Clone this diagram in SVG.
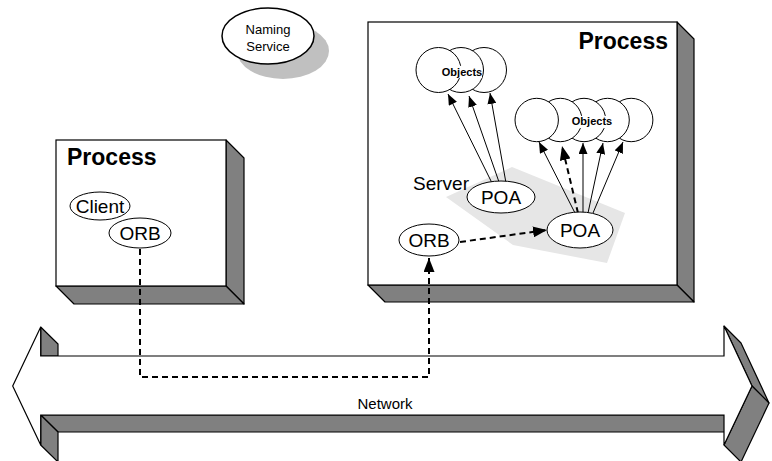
<svg xmlns="http://www.w3.org/2000/svg" width="772" height="461" viewBox="0 0 772 461">
<style>
.face{fill:#fff;stroke:#000;stroke-width:1.2}
.side{fill:#808080;stroke:#000;stroke-width:1.2;stroke-linejoin:round}
.ell{fill:#fff;stroke:#000;stroke-width:1}
.t{font-family:"Liberation Sans",Arial,sans-serif;fill:#000}
.lbl{font-size:19px;text-anchor:middle}
.title{font-size:23px;font-weight:bold}
.obj{font-size:11px;font-weight:bold;text-anchor:middle}
.ln{stroke:#000;stroke-width:1;fill:none}
.dash{stroke:#000;stroke-width:2;fill:none;stroke-dasharray:6,4}
</style>
<defs>
<marker id="ah" markerUnits="userSpaceOnUse" markerWidth="11" markerHeight="9" refX="11" refY="4.5" orient="auto"><path d="M0,0 L11,4.5 L0,9 z" fill="#000"/></marker>
<marker id="ahb" markerUnits="userSpaceOnUse" markerWidth="14" markerHeight="11" refX="14" refY="5.5" orient="auto"><path d="M0,0 L14,5.5 L0,11 z" fill="#000"/></marker>
</defs>

<g id="network">
<polygon class="side" points="40.7,327 58,344 58,356 40.7,356"/>
<polygon class="side" points="40.7,415 724,415 741,432 58,432"/>
<polygon class="side" points="40.7,415 58,432 58,462 40.7,445"/>
<polygon class="side" points="724,326 741,343 769,403 752,386"/>
<polygon class="side" points="752,386 769,403 741,462 724,445"/>
<polygon class="face" points="40.7,356 724,356 724,326 752,386 724,445 724,415 40.7,415 40.7,445 12.7,386 40.7,327"/>
<text class="t" x="385" y="409" font-size="15" text-anchor="middle">Network</text>
</g>

<g id="naming-service">
<ellipse cx="283" cy="51" rx="46" ry="28" fill="#c0c0c0"/>
<ellipse cx="268" cy="36" rx="46" ry="28" fill="#fff" stroke="#000" stroke-width="1.5"/>
<text class="t" x="268" y="34" font-size="13" text-anchor="middle">Naming</text>
<text class="t" x="268" y="51" font-size="13" text-anchor="middle">Service</text>
</g>

<g id="client-process">
<polygon class="side" points="226,140 244,158 244,304 226,286"/>
<polygon class="side" points="56,286 226,286 244,304 74,304"/>
<rect class="face" x="56" y="140" width="170" height="146"/>
<text class="t title" x="67" y="165">Process</text>
</g>

<g id="client">
<ellipse class="ell" cx="100" cy="206" rx="30" ry="14"/>
<text class="t lbl" x="100" y="213">Client</text>
</g>

<g id="client-orb">
<ellipse class="ell" cx="140" cy="233" rx="31" ry="15"/>
<text class="t lbl" x="140" y="240">ORB</text>
</g>

<g id="server-process">
<polygon class="side" points="677,22 694,39 694,302 677,285"/>
<polygon class="side" points="368,285 677,285 694,302 385,302"/>
<rect class="face" x="368" y="22" width="309" height="263"/>
<text class="t title" x="668" y="49" text-anchor="end">Process</text>
</g>

<g id="server-area">
<polygon points="446,197 512,167 625,213 607,263 513,245" fill="#e6e6e6"/>
<text class="t" x="413" y="190" font-size="19">Server</text>
</g>

<g id="objects-1">
<circle class="ell" cx="484" cy="70" r="22.5"/>
<circle class="ell" cx="461" cy="70" r="22.5"/>
<circle class="ell" cx="438.5" cy="70" r="22.5"/>
<rect x="442" y="66" width="40" height="12" fill="#fff"/>
<text class="t obj" x="462" y="76">Objects</text>
</g>

<g id="objects-2">
<circle class="ell" cx="631.2" cy="120" r="21.7"/>
<circle class="ell" cx="607.6" cy="120" r="21.7"/>
<circle class="ell" cx="584" cy="120" r="21.7"/>
<circle class="ell" cx="560.3" cy="120" r="21.7"/>
<circle class="ell" cx="536.7" cy="120" r="21.7"/>
<rect x="571" y="116" width="42" height="12" fill="#fff"/>
<text class="t obj" x="592" y="125">Objects</text>
</g>

<g id="connectors">
<line class="ln" x1="492" y1="183" x2="448" y2="94" marker-end="url(#ah)"/>
<line class="ln" x1="499" y1="182" x2="469" y2="96" marker-end="url(#ah)"/>
<line class="ln" x1="506" y1="183" x2="490" y2="93" marker-end="url(#ah)"/>
<line class="ln" x1="575" y1="213" x2="539" y2="142" marker-end="url(#ah)"/>
<line class="dash" x1="578" y1="213" x2="562" y2="146" marker-end="url(#ahb)"/>
<line class="ln" x1="583" y1="213" x2="583" y2="143" marker-end="url(#ah)"/>
<line class="ln" x1="588" y1="213" x2="603" y2="143" marker-end="url(#ah)"/>
<line class="ln" x1="593" y1="213" x2="623" y2="142" marker-end="url(#ah)"/>
<line class="dash" x1="460" y1="242" x2="547" y2="230" marker-end="url(#ahb)"/>
<polyline class="dash" points="140,249 140,377 429,377 429,258" marker-end="url(#ahb)"/>
</g>

<g id="server-poa-1">
<ellipse class="ell" cx="501" cy="197" rx="34" ry="16"/>
<text class="t lbl" x="501" y="204">POA</text>
</g>

<g id="server-poa-2">
<ellipse class="ell" cx="580" cy="230" rx="33" ry="18"/>
<text class="t lbl" x="580" y="237">POA</text>
</g>

<g id="server-orb">
<ellipse class="ell" cx="429" cy="240" rx="30" ry="16"/>
<text class="t lbl" x="429" y="247">ORB</text>
</g>
</svg>
